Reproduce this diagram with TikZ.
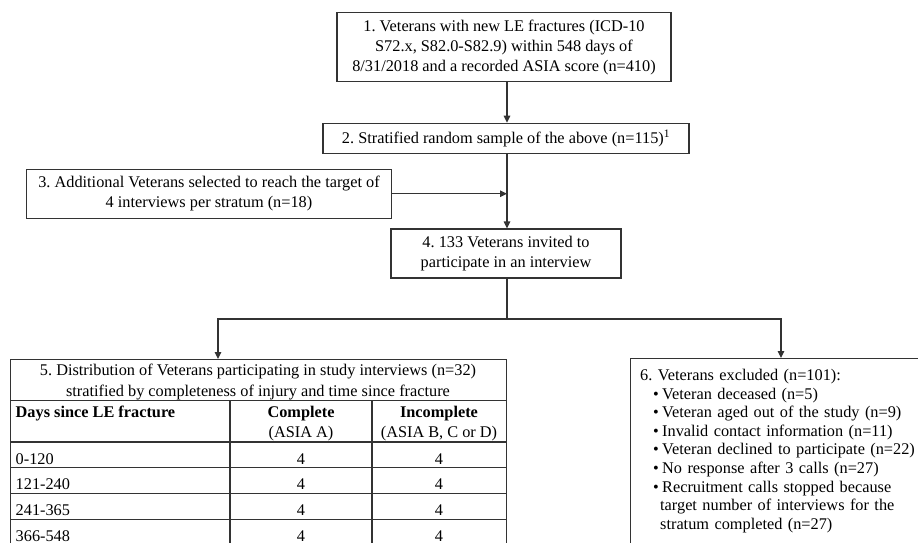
\documentclass[tikz,border=0pt]{standalone}
\usepackage{fontspec}
\setmainfont{Liberation Serif}
\usetikzlibrary{arrows.meta,calc}
\definecolor{lc}{HTML}{333333}
\newcommand{\myfs}{\fontsize{16.3}{20}\selectfont}
\newcommand{\mybul}{\makebox[9pt][l]{\textbullet}}
\frenchspacing
\begin{document}
\begin{tikzpicture}[x=1pt,y=-1pt,
  box/.style={draw=lc, line width=1.2pt, rectangle, inner sep=0pt, align=center, font=\myfs, text=black},
  txt/.style={inner sep=0pt, font=\myfs, text=black},
  arr/.style={draw=lc, line width=1.2pt, -{Triangle[length=7pt,width=6.5pt]}},
  ln/.style={draw=lc, line width=1.2pt},
  ]
\useasboundingbox (0,0) rectangle (918,542);
\clip (0,0) rectangle (918,542);
\coordinate (spine) at (507,0);
\coordinate (split) at (507,319);
\coordinate (in5) at (218,359);
\coordinate (in6) at (781,358);
% boxes
\node[box, minimum width=334, minimum height=69.4] (b1) at (504,47)
  {1. Veterans with new LE fractures (ICD-10\\ S72.x, S82.0-S82.9) within 548 days of\\ 8/31/2018 and a recorded ASIA score (n=410)};
\node[box, minimum width=366, minimum height=30] (b2) at (506,138.3)
  {2. Stratified random sample of the above (n=115)\textsuperscript{1}};
\node[box, minimum width=364.5, minimum height=49] (b3) at (209,193.7)
  {3. Additional Veterans selected to reach the target of\\ 4 interviews per stratum (n=18)};
\node[box, minimum width=230, minimum height=49] (b4) at (506,253.5)
  {4. 133 Veterans invited to\\ participate in an interview};
% table (box 5)
\node[box, anchor=north west, minimum width=496, minimum height=192] (t5) at (10,359) {};
\draw[ln] (t5.west |- 0,400.5) -- (t5.east |- 0,400.5);
\draw[ln] (t5.west |- 0,442) -- (t5.east |- 0,442);
\draw[ln] (t5.west |- 0,467.5) -- (t5.east |- 0,467.5);
\draw[ln] (t5.west |- 0,493.5) -- (t5.east |- 0,493.5);
\draw[ln] (t5.west |- 0,519.3) -- (t5.east |- 0,519.3);
\draw[ln] (230,400.5) -- (t5.south -| 230,0);
\draw[ln] (372,400.5) -- (t5.south -| 372,0);
\node[txt, anchor=base] (t5l1) at (258,375) {5. Distribution of Veterans participating in study interviews (n=32)};
\node[txt, anchor=base] (t5l2) at (258,396) {stratified by completeness of injury and time since fracture};
\node[txt, anchor=base west] (h1) at (15.5,417) {\textbf{Days since LE fracture}};
\node[txt, anchor=base] (h2a) at (301,417) {\textbf{Complete}};
\node[txt, anchor=base] (h2b) at (301,437) {(ASIA A)};
\node[txt, anchor=base] (h3a) at (439,417) {\textbf{Incomplete}};
\node[txt, anchor=base] (h3b) at (439,437) {(ASIA B, C or D)};
\foreach \lab [count=\i] in {0-120,121-240,241-365,366-548}{
  \pgfmathsetmacro{\yy}{464+25.8*(\i-1)}
  \node[txt, anchor=base west] (r\i) at (15.5,\yy) {\lab};
  \node[txt, anchor=base] (c\i) at (301,\yy) {4};
  \node[txt, anchor=base] (d\i) at (439,\yy) {4};
}
% box 6
\node[box, anchor=north west, minimum width=300, minimum height=200] (b6) at (630,358) {};
\node[txt, anchor=base west, text width=278pt, align=left, font=\fontsize{16.3}{18.6}\selectfont] (b6t) at (640,380.5)
  {6. Veterans excluded (n=101):\\
   \hspace*{13pt}\mybul Veteran deceased (n=5)\\
   \hspace*{13pt}\mybul Veteran aged out of the study (n=9)\\
   \hspace*{13pt}\mybul Invalid contact information (n=11)\\
   \hspace*{13pt}\mybul Veteran declined to participate (n=22)\\
   \hspace*{13pt}\mybul No response after 3 calls (n=27)\\
   \hspace*{13pt}\mybul Recruitment calls stopped because\\
   \hspace*{20pt}target number of interviews for the\\
   \hspace*{20pt}stratum completed (n=27)};
% connectors
\draw[arr] (b1.south -| spine) -- (b2.north -| spine);
\draw[arr] (b2.south -| spine) -- (b4.north -| spine);
\draw[arr] (b3.east) -- (b3.east -| spine);
\draw[ln] (b4.south -| spine) -- (split);
\draw[arr] (split) -| (in5);
\draw[arr] (split) -| (in6);
\end{tikzpicture}
\end{document}
